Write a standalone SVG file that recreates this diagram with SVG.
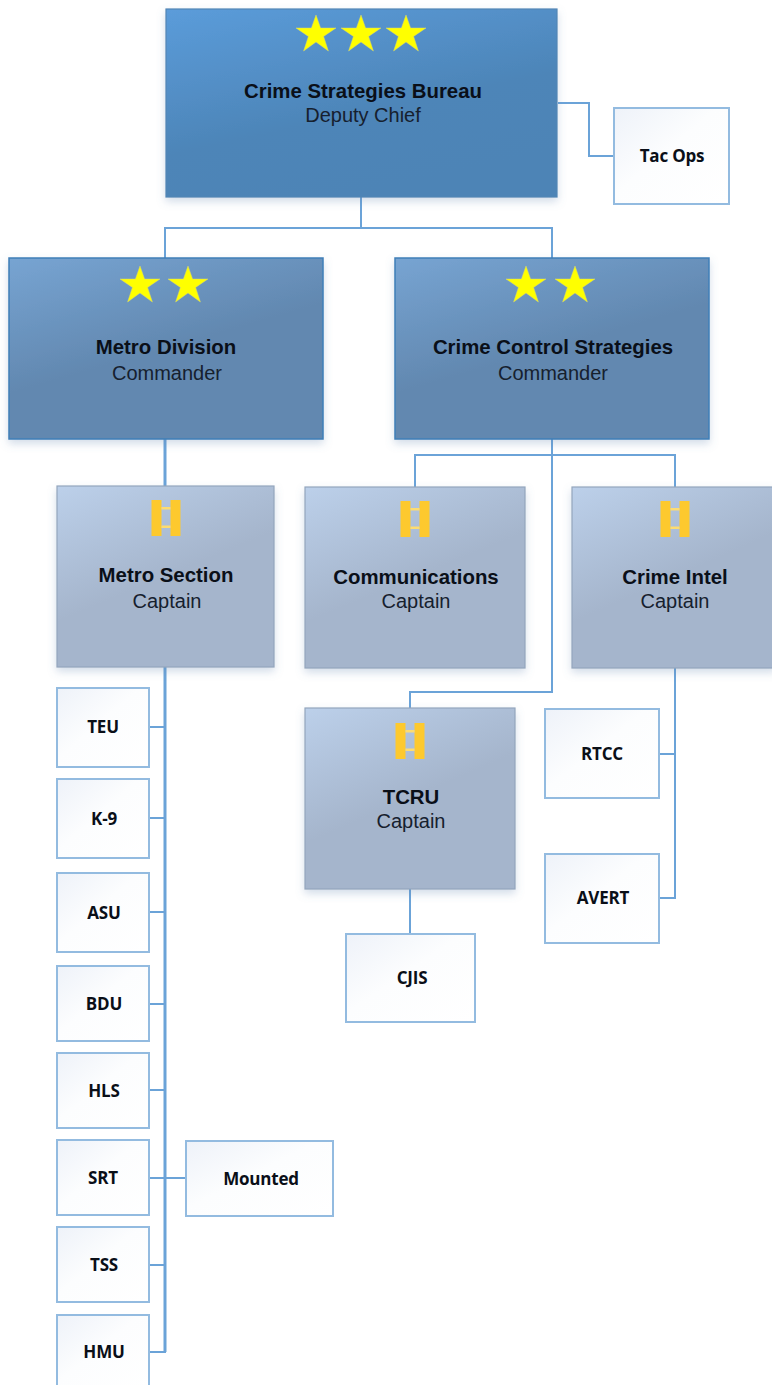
<svg xmlns="http://www.w3.org/2000/svg" xmlns:xlink="http://www.w3.org/1999/xlink" width="772" height="1385" viewBox="0 0 772 1385">
<style>
text{text-anchor:middle;font-family:"Liberation Sans",Arial,sans-serif;fill:#0a0f18}
.t{font-weight:bold;font-size:20.4px}
.s{font-size:20px;fill:#16202e}
.u{font-family:"Open Sans","Liberation Sans",sans-serif;font-weight:bold;font-size:17px;letter-spacing:-.2px}
.box{fill:url(#g3);stroke:#93bbe0;stroke-width:2}
.cap{fill:url(#g2);stroke:#93a6bd;stroke-width:1.2;filter:url(#sh)}
.div{fill:url(#g1);stroke:#3f7fb8;stroke-width:1.5;filter:url(#sh)}
.bur{fill:url(#g0);stroke:#5285b5;stroke-width:1.2;filter:url(#sh)}
.c{fill:none;stroke:#6ba3d8;stroke-width:2}
.spine{stroke-width:3}
.star{fill:#ffff00;stroke:#d8d870;stroke-width:.5}
.bar{fill:#fdc92e}
.rung{fill:#fddc70}
</style>
<defs>
<linearGradient id="g0" x1="0" y1="0" x2=".45" y2="1"><stop offset="0" stop-color="#5b9cda"/><stop offset=".65" stop-color="#4d85b8"/><stop offset="1" stop-color="#4d84b6"/></linearGradient>
<linearGradient id="g1" x1="0" y1="0" x2=".5" y2="1"><stop offset="0" stop-color="#77a4d2"/><stop offset=".6" stop-color="#6288b0"/><stop offset="1" stop-color="#6288b0"/></linearGradient>
<linearGradient id="g2" x1="0" y1="0" x2=".5" y2="1"><stop offset="0" stop-color="#bcd0ea"/><stop offset=".6" stop-color="#a5b5cc"/><stop offset="1" stop-color="#a5b5cc"/></linearGradient>
<linearGradient id="g3" x1="0" y1="0" x2="1" y2="1"><stop offset="0" stop-color="#eef2f9"/><stop offset=".45" stop-color="#fcfdfe"/><stop offset="1" stop-color="#ffffff"/></linearGradient>
<filter id="sh" x="-5%" y="-5%" width="110%" height="115%"><feDropShadow dx="0" dy="4" stdDeviation="4" flood-color="#5b84ad" flood-opacity=".28"/></filter>
<polygon id="star" class="star" points="0,-19 4.6,-6 20,-6 7.6,2.4 12.4,17 0,8 -12.4,17 -7.6,2.4 -20,-6 -4.6,-6"/>
<g id="bars"><rect class="bar" x="-14.500" y="-18" width="10" height="36"/><rect class="bar" x="4.500" y="-18" width="10" height="36"/><rect class="rung" x="-4.500" y="-11" width="9" height="2.500"/><rect class="rung" x="-4.500" y="7.500" width="9" height="2.500"/></g>
</defs>

<g id="connectors">
<path class="c" d="M558 103H589V156H614"/>
<path class="c" d="M361 197V228M165 258V228H552V258"/>
<path class="c spine" d="M165 439V486"/>
<path class="c" d="M552 439V692H410V708"/>
<path class="c" d="M415 487V455H675V487"/>
<path class="c spine" d="M165 667V1352"/>
<path class="c" d="M150 727H165M150 818H165M150 912H165M150 1004H165M150 1090H165M150 1178H186M150 1265H165M150 1352H166"/>
<path class="c" d="M675 668V898H660M660 754H675"/>
<path class="c" d="M410 889V934"/>
</g>

<g id="bureau">
<rect class="bur" x="166" y="9" width="391" height="188"/>
<use xlink:href="#star" href="#star" x="316" y="34"/><use xlink:href="#star" href="#star" x="361" y="34"/><use xlink:href="#star" href="#star" x="406" y="34"/>
<text class="t" x="363" y="98">Crime Strategies Bureau</text>
<text class="s" x="363" y="122">Deputy Chief</text>
</g>
<g id="tacops"><rect class="box" x="614" y="108" width="115" height="96"/><text class="u" x="672" y="162">Tac Ops</text></g>

<g id="metro-division">
<rect class="div" x="9" y="258" width="314" height="181"/>
<use xlink:href="#star" href="#star" x="140" y="285"/><use xlink:href="#star" href="#star" x="188" y="285"/>
<text class="t" x="166" y="354">Metro Division</text>
<text class="s" x="167" y="380">Commander</text>
</g>
<g id="crime-control">
<rect class="div" x="395" y="258" width="314" height="181"/>
<use xlink:href="#star" href="#star" x="526" y="285"/><use xlink:href="#star" href="#star" x="575" y="285"/>
<text class="t" x="553" y="354">Crime Control Strategies</text>
<text class="s" x="553" y="380">Commander</text>
</g>

<g id="metro-section">
<rect class="cap" x="57" y="486" width="217" height="181"/>
<use xlink:href="#bars" href="#bars" x="166" y="518"/>
<text class="t" x="166" y="582">Metro Section</text>
<text class="s" x="167" y="608">Captain</text>
</g>
<g id="communications">
<rect class="cap" x="305" y="487" width="220" height="181"/>
<use xlink:href="#bars" href="#bars" x="415" y="519"/>
<text class="t" x="416" y="584">Communications</text>
<text class="s" x="416" y="608">Captain</text>
</g>
<g id="crime-intel">
<rect class="cap" x="572" y="487" width="204" height="181"/>
<use xlink:href="#bars" href="#bars" x="675" y="519"/>
<text class="t" x="675" y="584">Crime Intel</text>
<text class="s" x="675" y="608">Captain</text>
</g>
<g id="tcru">
<rect class="cap" x="305" y="708" width="210" height="181"/>
<use xlink:href="#bars" href="#bars" x="410" y="741"/>
<text class="t" x="411" y="804">TCRU</text>
<text class="s" x="411" y="828">Captain</text>
</g>

<g id="rtcc"><rect class="box" x="545" y="709" width="114" height="89"/><text class="u" x="602" y="760">RTCC</text></g>
<g id="avert"><rect class="box" x="545" y="854" width="114" height="89"/><text class="u" x="603" y="904">AVERT</text></g>
<g id="cjis"><rect class="box" x="346" y="934" width="129" height="88"/><text class="u" x="412" y="984">CJIS</text></g>
<g id="teu"><rect class="box" x="57" y="688" width="92" height="79"/><text class="u" x="103" y="733">TEU</text></g>
<g id="k9"><rect class="box" x="57" y="779" width="92" height="79"/><text class="u" x="104" y="825">K-9</text></g>
<g id="asu"><rect class="box" x="57" y="873" width="92" height="79"/><text class="u" x="104" y="919">ASU</text></g>
<g id="bdu"><rect class="box" x="57" y="966" width="92" height="75"/><text class="u" x="104" y="1010">BDU</text></g>
<g id="hls"><rect class="box" x="57" y="1053" width="92" height="75"/><text class="u" x="104" y="1097">HLS</text></g>
<g id="srt"><rect class="box" x="57" y="1140" width="92" height="75"/><text class="u" x="103" y="1184">SRT</text></g>
<g id="tss"><rect class="box" x="57" y="1227" width="92" height="75"/><text class="u" x="104" y="1271">TSS</text></g>
<g id="hmu"><rect class="box" x="57" y="1315" width="92" height="75"/><text class="u" x="104" y="1358">HMU</text></g>
<g id="mounted"><rect class="box" x="186" y="1141" width="147" height="75"/><text class="u" x="261" y="1185">Mounted</text></g>
</svg>
